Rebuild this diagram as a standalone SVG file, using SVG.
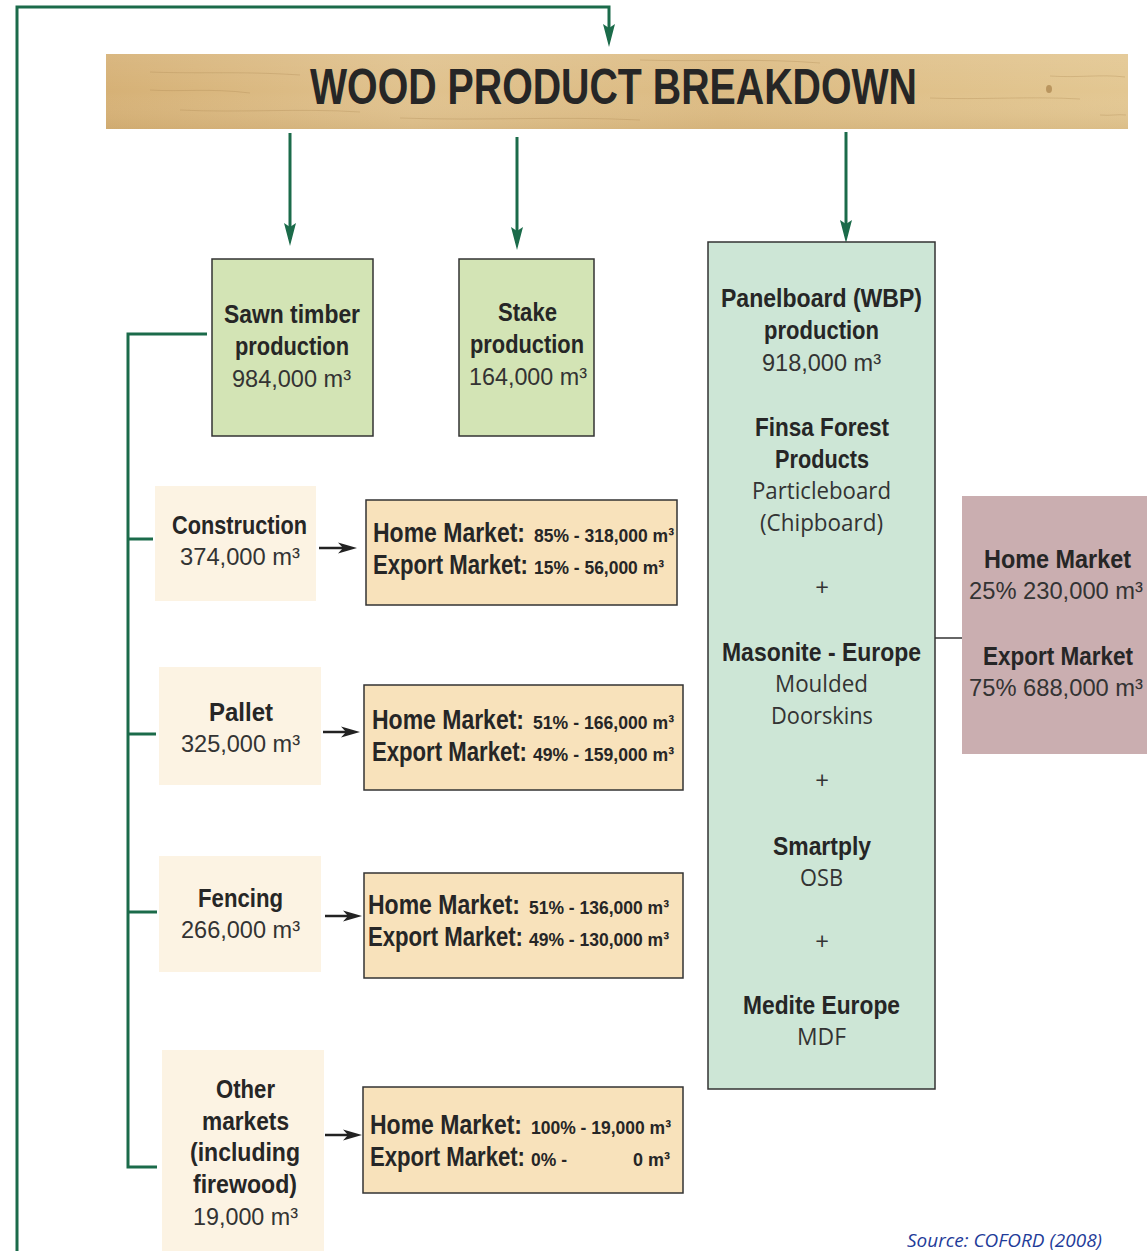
<svg xmlns="http://www.w3.org/2000/svg" width="1147" height="1251" viewBox="0 0 1147 1251">
<defs>
<linearGradient id="wood" x1="0" y1="0" x2="1" y2="0">
<stop offset="0" stop-color="#d6b176"/>
<stop offset="0.3" stop-color="#e0c28e"/>
<stop offset="0.6" stop-color="#dcbb83"/>
<stop offset="1" stop-color="#e3c792"/>
</linearGradient>
<linearGradient id="woodv" x1="0" y1="0" x2="0" y2="1">
<stop offset="0" stop-color="#ffffff" stop-opacity="0.08"/>
<stop offset="0.5" stop-color="#ffffff" stop-opacity="0"/>
<stop offset="1" stop-color="#a07840" stop-opacity="0.12"/>
</linearGradient>
<marker id="ga" markerUnits="userSpaceOnUse" markerWidth="24" markerHeight="13" viewBox="0 0 24 13" refX="16" refY="6.5" orient="auto">
<path d="M0,0.5 L23,6.5 L0,12.5 L4,6.5 z" fill="#1b6b4a"/>
</marker>
<marker id="ka" markerUnits="userSpaceOnUse" markerWidth="20" markerHeight="12" viewBox="0 0 20 12" refX="12" refY="6" orient="auto">
<path d="M0,0.5 L19,6 L0,11.5 L5,6 z" fill="#222"/>
</marker>
<style>
.g{fill:none;stroke:#1b6b4a;stroke-width:3}
.k{fill:none;stroke:#222;stroke-width:2.5}
.b{font-family:"Liberation Sans Narrow","Liberation Sans",Arial,sans-serif;font-weight:bold;fill:#262626}
.r{font-family:"Liberation Sans Narrow","Liberation Sans",Arial,sans-serif;fill:#333}
.h{font-family:"Open Sans","Noto Sans","Liberation Sans",sans-serif;fill:#333}
.green{fill:#d3e4b5;stroke:#333;stroke-width:1.5}
.mint{fill:#cde6d6;stroke:#333;stroke-width:1.5}
.cream{fill:#fcf3e3}
.mk{fill:#f8e2bb;stroke:#333;stroke-width:1.5}
.pink{fill:#caaeb0}
</style>
</defs>
<rect width="1147" height="1251" fill="#ffffff"/>

<g id="header">
<rect x="106" y="54" width="1022" height="75" fill="url(#wood)"/>
<rect x="106" y="54" width="1022" height="75" fill="url(#woodv)"/>
<g fill="none" stroke="#a9854e" stroke-opacity="0.3" stroke-width="1">
<path d="M150,72 C200,74 240,71 300,75"/>
<path d="M150,90 C180,92 210,88 250,93"/>
<path d="M180,110 C240,113 300,108 360,112"/>
<path d="M640,60 C700,62 760,58 820,63"/>
<path d="M930,98 C980,100 1030,96 1080,99"/>
<path d="M1050,76 C1080,78 1100,74 1125,77"/>
<path d="M400,118 C480,121 560,116 640,120"/>
<path d="M1100,115 C1110,116 1118,114 1126,115"/>
</g>
<ellipse cx="1049" cy="89" rx="3" ry="4" fill="#a9824a" fill-opacity="0.7"/>
<text class="b" x="310" y="104" font-size="50" textLength="607" lengthAdjust="spacingAndGlyphs">WOOD PRODUCT BREAKDOWN</text>
</g>

<g id="connectors">
<path class="g" d="M17,1251 V7 H609 V40" marker-end="url(#ga)"/>
<path class="g" d="M290,133 V239" marker-end="url(#ga)"/>
<path class="g" d="M517,137 V243" marker-end="url(#ga)"/>
<path class="g" d="M846,132 V236" marker-end="url(#ga)"/>
<path class="g" d="M207,334 H128 V1167 H157"/>
<path class="g" d="M128,539 H153"/>
<path class="g" d="M128,734 H156"/>
<path class="g" d="M128,912 H157"/>
<path fill="none" stroke="#333" stroke-width="1.5" d="M935,638 H962"/>
<path class="k" d="M319,548 H350" marker-end="url(#ka)"/>
<path class="k" d="M323,732 H353" marker-end="url(#ka)"/>
<path class="k" d="M325,916 H355" marker-end="url(#ka)"/>
<path class="k" d="M325,1135 H355" marker-end="url(#ka)"/>
</g>

<g id="sawn">
<rect class="green" x="212" y="259" width="161" height="177"/>
<text class="b" x="224" y="323" font-size="26" textLength="136" lengthAdjust="spacingAndGlyphs">Sawn timber</text>
<text class="b" x="235" y="355" font-size="26" textLength="114" lengthAdjust="spacingAndGlyphs">production</text>
<text class="r" x="232" y="387" font-size="24" textLength="119" lengthAdjust="spacingAndGlyphs">984,000 m³</text>
</g>

<g id="stake">
<rect class="green" x="459" y="259" width="135" height="177"/>
<text class="b" x="498" y="321" font-size="26" textLength="59" lengthAdjust="spacingAndGlyphs">Stake</text>
<text class="b" x="470" y="353" font-size="26" textLength="114" lengthAdjust="spacingAndGlyphs">production</text>
<text class="r" x="469" y="385" font-size="24" textLength="118" lengthAdjust="spacingAndGlyphs">164,000 m³</text>
</g>

<g id="panelboard">
<rect class="mint" x="708" y="242" width="227" height="847"/>
<text class="b" x="721" y="307" font-size="26" textLength="201" lengthAdjust="spacingAndGlyphs">Panelboard (WBP)</text>
<text class="b" x="764" y="339" font-size="26" textLength="115" lengthAdjust="spacingAndGlyphs">production</text>
<text class="r" x="762" y="371" font-size="24" textLength="119" lengthAdjust="spacingAndGlyphs">918,000 m³</text>
<text class="b" x="755" y="436" font-size="26" textLength="134" lengthAdjust="spacingAndGlyphs">Finsa Forest</text>
<text class="b" x="775" y="468" font-size="26" textLength="94" lengthAdjust="spacingAndGlyphs">Products</text>
<text class="h" x="752" y="499" font-size="23" textLength="139" lengthAdjust="spacingAndGlyphs">Particleboard</text>
<text class="h" x="760" y="531" font-size="23" textLength="123" lengthAdjust="spacingAndGlyphs">(Chipboard)</text>
<text class="h" x="822" y="596" font-size="24" text-anchor="middle">+</text>
<text class="b" x="722" y="661" font-size="26" textLength="199" lengthAdjust="spacingAndGlyphs">Masonite - Europe</text>
<text class="h" x="775" y="692" font-size="23" textLength="93" lengthAdjust="spacingAndGlyphs">Moulded</text>
<text class="h" x="771" y="724" font-size="23" textLength="102" lengthAdjust="spacingAndGlyphs">Doorskins</text>
<text class="h" x="822" y="789" font-size="24" text-anchor="middle">+</text>
<text class="b" x="773" y="855" font-size="26" textLength="98" lengthAdjust="spacingAndGlyphs">Smartply</text>
<text class="h" x="800" y="886" font-size="23" textLength="43" lengthAdjust="spacingAndGlyphs">OSB</text>
<text class="h" x="822" y="950" font-size="24" text-anchor="middle">+</text>
<text class="b" x="743" y="1014" font-size="26" textLength="157" lengthAdjust="spacingAndGlyphs">Medite Europe</text>
<text class="h" x="797" y="1045" font-size="23" textLength="49" lengthAdjust="spacingAndGlyphs">MDF</text>
</g>

<g id="panel-markets">
<rect class="pink" x="962" y="496" width="185" height="258"/>
<text class="b" x="984" y="568" font-size="26" textLength="147" lengthAdjust="spacingAndGlyphs">Home Market</text>
<text class="r" x="969" y="599" font-size="24" textLength="174" lengthAdjust="spacingAndGlyphs">25% 230,000 m³</text>
<text class="b" x="983" y="665" font-size="26" textLength="150" lengthAdjust="spacingAndGlyphs">Export Market</text>
<text class="r" x="969" y="696" font-size="24" textLength="174" lengthAdjust="spacingAndGlyphs">75% 688,000 m³</text>
</g>

<g id="construction">
<rect class="cream" x="155" y="486" width="161" height="115"/>
<text class="b" x="172" y="534" font-size="26" textLength="135" lengthAdjust="spacingAndGlyphs">Construction</text>
<text class="r" x="180" y="565" font-size="24" textLength="120" lengthAdjust="spacingAndGlyphs">374,000 m³</text>
</g>
<g id="construction-markets">
<rect class="mk" x="366" y="500" width="311" height="105"/>
<text class="b" x="373" y="542" font-size="27" textLength="152" lengthAdjust="spacingAndGlyphs">Home Market:</text>
<text class="b" x="534" y="542" font-size="19" textLength="140" lengthAdjust="spacingAndGlyphs">85% - 318,000 m³</text>
<text class="b" x="373" y="574" font-size="27" textLength="155" lengthAdjust="spacingAndGlyphs">Export Market:</text>
<text class="b" x="534" y="574" font-size="19" textLength="130" lengthAdjust="spacingAndGlyphs">15% - 56,000 m³</text>
</g>

<g id="pallet">
<rect class="cream" x="159" y="667" width="162" height="118"/>
<text class="b" x="209" y="721" font-size="26" textLength="64" lengthAdjust="spacingAndGlyphs">Pallet</text>
<text class="r" x="181" y="752" font-size="24" textLength="119" lengthAdjust="spacingAndGlyphs">325,000 m³</text>
</g>
<g id="pallet-markets">
<rect class="mk" x="364" y="685" width="319" height="105"/>
<text class="b" x="372" y="729" font-size="27" textLength="152" lengthAdjust="spacingAndGlyphs">Home Market:</text>
<text class="b" x="533" y="729" font-size="19" textLength="141" lengthAdjust="spacingAndGlyphs">51% - 166,000 m³</text>
<text class="b" x="372" y="761" font-size="27" textLength="155" lengthAdjust="spacingAndGlyphs">Export Market:</text>
<text class="b" x="533" y="761" font-size="19" textLength="141" lengthAdjust="spacingAndGlyphs">49% - 159,000 m³</text>
</g>

<g id="fencing">
<rect class="cream" x="159" y="856" width="162" height="116"/>
<text class="b" x="198" y="907" font-size="26" textLength="85" lengthAdjust="spacingAndGlyphs">Fencing</text>
<text class="r" x="181" y="938" font-size="24" textLength="119" lengthAdjust="spacingAndGlyphs">266,000 m³</text>
</g>
<g id="fencing-markets">
<rect class="mk" x="364" y="873" width="319" height="105"/>
<text class="b" x="368" y="914" font-size="27" textLength="152" lengthAdjust="spacingAndGlyphs">Home Market:</text>
<text class="b" x="529" y="914" font-size="19" textLength="140" lengthAdjust="spacingAndGlyphs">51% - 136,000 m³</text>
<text class="b" x="368" y="946" font-size="27" textLength="155" lengthAdjust="spacingAndGlyphs">Export Market:</text>
<text class="b" x="529" y="946" font-size="19" textLength="140" lengthAdjust="spacingAndGlyphs">49% - 130,000 m³</text>
</g>

<g id="other">
<rect class="cream" x="162" y="1050" width="162" height="201"/>
<text class="b" x="216" y="1098" font-size="26" textLength="59" lengthAdjust="spacingAndGlyphs">Other</text>
<text class="b" x="202" y="1130" font-size="26" textLength="87" lengthAdjust="spacingAndGlyphs">markets</text>
<text class="b" x="190" y="1161" font-size="26" textLength="110" lengthAdjust="spacingAndGlyphs">(including</text>
<text class="b" x="193" y="1193" font-size="26" textLength="104" lengthAdjust="spacingAndGlyphs">firewood)</text>
<text class="r" x="193" y="1225" font-size="24" textLength="105" lengthAdjust="spacingAndGlyphs">19,000 m³</text>
</g>
<g id="other-markets">
<rect class="mk" x="363" y="1087" width="320" height="106"/>
<text class="b" x="370" y="1134" font-size="27" textLength="152" lengthAdjust="spacingAndGlyphs">Home Market:</text>
<text class="b" x="531" y="1134" font-size="19" textLength="140" lengthAdjust="spacingAndGlyphs">100% - 19,000 m³</text>
<text class="b" x="370" y="1166" font-size="27" textLength="155" lengthAdjust="spacingAndGlyphs">Export Market:</text>
<text class="b" x="531" y="1166" font-size="19" textLength="36" lengthAdjust="spacingAndGlyphs">0% -</text>
<text class="b" x="633" y="1166" font-size="19" textLength="37" lengthAdjust="spacingAndGlyphs">0 m³</text>
</g>

<text class="h" x="907" y="1247" font-size="19" font-style="italic" style="fill:#1f3c99" textLength="195" lengthAdjust="spacingAndGlyphs">Source: COFORD (2008)</text>
</svg>
